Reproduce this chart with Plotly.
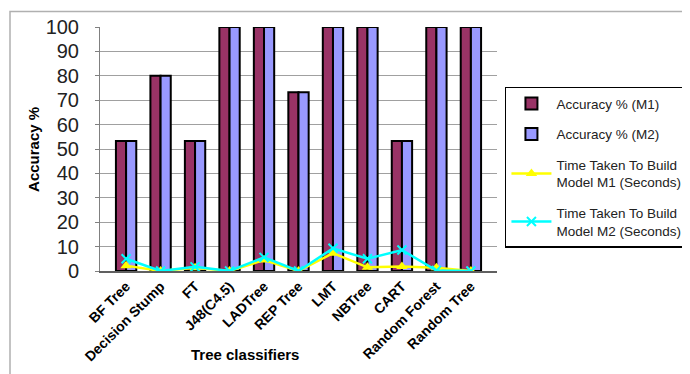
import plotly.graph_objects as go

categories = ["BF Tree", "Decision Stump", "FT", "J48(C4.5)", "LADTree", "REP Tree",
              "LMT", "NBTree", "CART", "Random Forest", "Random Tree"]
acc_m1 = [53.3, 80, 53.3, 100, 100, 73.3, 100, 100, 53.3, 100, 100]
acc_m2 = [53.3, 80, 53.3, 100, 100, 73.3, 100, 100, 53.3, 100, 100]
time_m1 = [2.2, 0, 1.3, 0, 4.5, 0, 7.3, 1.5, 1.8, 1.3, 0]
time_m2 = [5.0, 0, 1.7, 0, 5.6, 0, 9.3, 5.0, 8.6, 0.2, 0]

fig = go.Figure()
fig.add_trace(go.Bar(x=categories, y=acc_m1, name="Accuracy % (M1)", legendgroup="a",
                     marker=dict(color="#993366", line=dict(color="black", width=2))))
fig.add_trace(go.Bar(x=categories, y=acc_m2, name="Accuracy % (M2)", legendgroup="b",
                     marker=dict(color="#9999FF", line=dict(color="black", width=2))))
fig.add_trace(go.Scatter(x=categories, y=time_m1, name="Time Taken To Build<br>Model M1 (Seconds)",
                         legendgroup="c", mode="lines+markers",
                         line=dict(color="#FFFF00", width=2.5),
                         marker=dict(symbol="triangle-up", size=10, color="#FFFF00")))
fig.add_trace(go.Scatter(x=categories, y=time_m2, name="Time Taken To Build<br>Model M2 (Seconds)",
                         legendgroup="d", mode="lines+markers",
                         line=dict(color="#00FFFF", width=2.5),
                         marker=dict(symbol="x-thin", size=9, color="#00FFFF",
                                     line=dict(color="#00FFFF", width=2))))

# page body adds an 8px offset; figure is sized to fit the rest of the window
fig.update_layout(
    width=682, height=366,
    margin=dict(l=92, r=193, t=19, b=103, autoexpand=False),
    paper_bgcolor="white", plot_bgcolor="white",
    barmode="group", bargap=0.41, bargroupgap=0,
    font=dict(family="Arial, Liberation Sans", color="black"),
    legend=dict(x=1.02, y=0.755, xanchor="left", yanchor="top",
                bordercolor="black", borderwidth=1.5, bgcolor="white",
                font=dict(size=13.5, color="#222222"), itemwidth=40,
                traceorder="grouped", tracegroupgap=10),
    xaxis=dict(tickangle=-45, tickfont=dict(size=14, family="Arial, Liberation Sans"),
               showline=True, linecolor="#606060", linewidth=1.5, showgrid=False,
               ticks="", tickprefix="<b>", ticksuffix="</b>", automargin=False),
    yaxis=dict(range=[0, 100], dtick=10, tickfont=dict(size=20, color="#222222"),
               showgrid=True, gridcolor="#a0a0a0", gridwidth=1,
               showline=True, linecolor="#808080", linewidth=1,
               ticks="outside", ticklen=4, tickcolor="#808080", zeroline=False,
               ticklabelstandoff=12, automargin=False),
    annotations=[
        dict(text="<b>Tree classifiers</b>", xref="paper", yref="paper",
             x=0.365, y=-0.344, xanchor="center", yanchor="middle",
             showarrow=False, font=dict(size=15, color="black")),
        dict(text="<b>Accuracy %</b>", xref="paper", yref="paper",
             x=-0.169, y=0.5, xanchor="center", yanchor="middle", textangle=-90,
             showarrow=False, font=dict(size=15, color="black")),
    ],
    shapes=[dict(type="rect", xref="paper", yref="paper",
                 x0=-0.2267, x1=2.0, y0=-1.0, y1=1.064,
                 line=dict(color="#b0b0b0", width=1.5), layer="below")],
)

fig.write_html("out.html")
